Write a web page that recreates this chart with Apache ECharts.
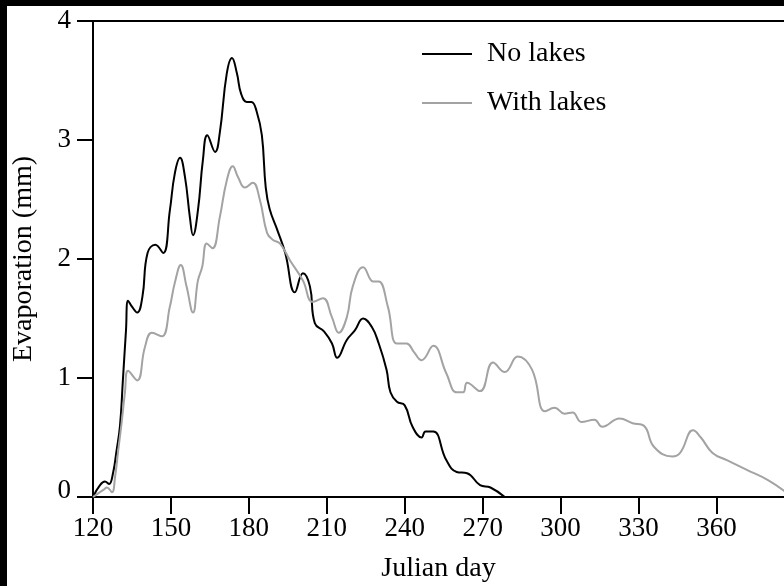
<!DOCTYPE html>
<html>
<head>
<meta charset="utf-8">
<script src="https://cdn.jsdelivr.net/npm/echarts@6/dist/echarts.min.js"></script>
<style>
  html, body { margin: 0; padding: 0; background: #000; }
  #main { position: absolute; left: 7px; top: 6px; width: 777px; height: 580px; background: #fff; }
</style>
</head>
<body>
<div id="main"></div>
<script>
// 刻度
var dayTicks = [120, 150, 180, 210, 240, 270, 300, 330, 360];

// No lakes
var noLakesDays = [120, 122.7, 124.6, 126.2, 127.7, 129, 130.4, 131.5, 132.7, 133.5, 135, 137, 139, 141, 144, 147, 149.6, 151.5, 153.5, 155.4, 157.3, 158.5, 160.4, 162.3, 164, 167, 168.8, 171.5, 173.5, 175.4, 177, 179.2, 181, 183, 185, 186.5, 188, 191, 194, 197.7, 200.8, 203.5, 205.4, 209, 212, 214, 217.7, 220.8, 224, 227.3, 230, 233, 234.5, 237, 240, 243, 246.5, 248, 251, 256, 260, 264, 269, 273, 278.5];
var noLakesVals = [0, 0.1, 0.13, 0.11, 0.2, 0.38, 0.6, 0.98, 1.4, 1.65, 1.6, 1.55, 1.68, 2.05, 2.12, 2.05, 2.41, 2.72, 2.85, 2.69, 2.35, 2.2, 2.41, 2.83, 3.04, 2.9, 3.06, 3.56, 3.69, 3.56, 3.39, 3.32, 3.32, 3.24, 3.04, 2.6, 2.42, 2.24, 2.05, 1.72, 1.88, 1.77, 1.46, 1.39, 1.29, 1.17, 1.32, 1.4, 1.5, 1.43, 1.29, 1.07, 0.88, 0.8, 0.77, 0.59, 0.5, 0.55, 0.55, 0.31, 0.21, 0.2, 0.1, 0.08, 0];

// With lakes
var withLakesDays = [120, 122, 124, 125.4, 127.3, 128.5, 129.7, 131, 132.3, 133.5, 137, 140, 142.7, 146.5, 149.6, 151.5, 153.8, 156, 158.5, 160.4, 162, 163.8, 166, 168.8, 171.5, 173.8, 175.8, 178.5, 181.5, 184.2, 187, 189.3, 192, 195.8, 200.8, 204.6, 208.5, 212, 214.6, 217.7, 220, 224, 228, 230, 233.5, 237, 240.7, 243.5, 246.5, 251, 256, 260, 262.5, 264, 269, 274, 278.5, 283.5, 289, 294, 297.7, 301.5, 304.6, 308, 313, 316, 322.7, 327.7, 332, 336, 343, 346, 351, 354, 358.5, 364, 371.5, 380, 388];
var withLakesVals = [0, 0.03, 0.06, 0.08, 0.04, 0.17, 0.39, 0.62, 0.88, 1.06, 0.98, 1.26, 1.38, 1.35, 1.6, 1.8, 1.95, 1.77, 1.55, 1.82, 1.93, 2.13, 2.09, 2.35, 2.66, 2.78, 2.69, 2.6, 2.64, 2.5, 2.22, 2.16, 2.13, 1.99, 1.82, 1.64, 1.67, 1.51, 1.38, 1.51, 1.77, 1.93, 1.81, 1.81, 1.6, 1.29, 1.29, 1.22, 1.15, 1.27, 1.04, 0.88, 0.88, 0.96, 0.89, 1.13, 1.05, 1.18, 1.07, 0.72, 0.75, 0.7, 0.71, 0.63, 0.65, 0.59, 0.66, 0.62, 0.6, 0.42, 0.34, 0.37, 0.56, 0.5, 0.37, 0.31, 0.23, 0.14, 0.02];

function zip(xs, ys) {
    return xs.map(function (x, i) { return [x, ys[i]]; });
}

var font = 'Liberation Serif';
var myChart = echarts.init(document.getElementById('main'));
myChart.setOption({
    backgroundColor: '#fff',
    animation: false,
    grid: { left: 86, top: 15, right: 0, bottom: 89, outerBoundsMode: 'none', containLabel: false },
    legend: {
        orient: 'vertical',
        left: 415,
        top: 34,
        padding: 0,
        icon: 'rect',
        itemWidth: 50,
        itemHeight: 2,
        itemGap: 21,
        textStyle: { fontFamily: font, fontSize: 28, color: '#000', lineHeight: 28, padding: [0, 0, 0, 10] },
        data: ['No lakes', 'With lakes']
    },
    xAxis: [{
        type: 'value',
        min: 120,
        max: 386,
        interval: 30,
        name: 'Julian day',
        nameLocation: 'middle',
        nameGap: 58,
        nameTextStyle: { fontFamily: font, fontSize: 28, color: '#000' },
        axisLine: { lineStyle: { color: '#000', width: 2 } },
        axisTick: { length: 17, lineStyle: { color: '#000', width: 2 }, customValues: dayTicks },
        axisLabel: { fontFamily: font, fontSize: 27, color: '#000', margin: 18, customValues: dayTicks },
        splitLine: { show: false }
    }, {
        type: 'value',
        position: 'top',
        min: 120,
        max: 386,
        axisLine: { show: true, lineStyle: { color: '#000', width: 2 } },
        axisTick: { show: false },
        axisLabel: { show: false },
        splitLine: { show: false }
    }],
    yAxis: {
        type: 'value',
        min: 0,
        max: 4,
        interval: 1,
        name: 'Evaporation (mm)',
        nameLocation: 'middle',
        nameGap: 55,
        nameTextStyle: { fontFamily: font, fontSize: 28, color: '#000' },
        axisLine: { show: true, lineStyle: { color: '#000', width: 2 } },
        axisTick: { show: true, length: 16, lineStyle: { color: '#000', width: 2 } },
        axisLabel: {
            fontFamily: font, fontSize: 27, color: '#000', margin: 22,
            formatter: function (v) { return v === 0 ? '{z|0}' : String(v); },
            rich: { z: { fontFamily: font, fontSize: 27, color: '#000', padding: [0, 0, 12, 0] } }
        },
        splitLine: { show: false }
    },
    series: [{
        name: 'No lakes',
        type: 'line',
        smooth: 0.45,
        showSymbol: false,
        color: '#000',
        lineStyle: { color: '#000', width: 2 },
        data: zip(noLakesDays, noLakesVals)
    }, {
        name: 'With lakes',
        type: 'line',
        smooth: 0.45,
        showSymbol: false,
        color: '#a3a3a3',
        lineStyle: { color: '#a3a3a3', width: 2 },
        data: zip(withLakesDays, withLakesVals)
    }]
});
</script>
</body>
</html>
